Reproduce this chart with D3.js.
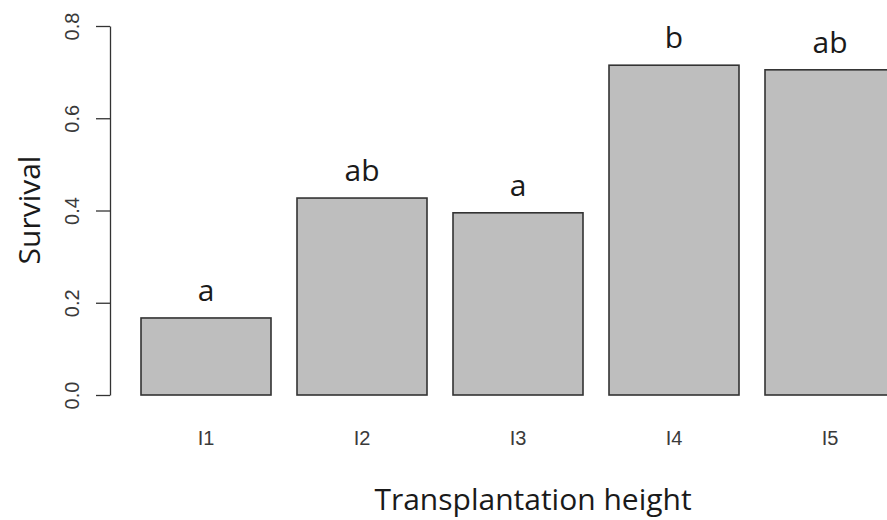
<!DOCTYPE html>
<html>
<head>
<meta charset="utf-8">
<script src="https://cdn.jsdelivr.net/npm/d3@7"></script>
<style>
  html, body { margin: 0; padding: 0; background: #ffffff; }
  svg { display: block; }
</style>
</head>
<body>
<svg id="chart" width="887" height="520"></svg>
<script>
// Survival proportion by transplantation height, with significance letters
const categories = ["I1", "I2", "I3", "I4", "I5"];
const survival = [0.167, 0.427, 0.395, 0.715, 0.705];
const groupLetters = ["a", "ab", "a", "b", "ab"];
const yTicks = [0.0, 0.2, 0.4, 0.6, 0.8];

const svg = d3.select("#chart");

const x = d3.scaleBand()
  .domain(categories)
  .range([128, 908])
  .paddingInner(1 / 6)
  .paddingOuter(1 / 12);

const y = d3.scaleLinear()
  .domain([0, 0.8])
  .range([395, 26]);

const ink = "#333333";
const textInk = "#1a1a1a";
const tickInk = "#3a3a3a";
const tickFont = "'Liberation Sans', Arial, sans-serif";

// bars
svg.append("g")
  .selectAll("rect")
  .data(categories)
  .join("rect")
  .attr("x", d => x(d))
  .attr("y", (d, i) => y(survival[i]))
  .attr("width", x.bandwidth())
  .attr("height", (d, i) => y(0) - y(survival[i]))
  .attr("fill", "#bebebe")
  .attr("stroke", ink)
  .attr("stroke-width", 1.6);

// y axis
const yAxis = svg.append("g")
  .attr("transform", "translate(110,0)")
  .call(d3.axisLeft(y).tickValues(yTicks).tickFormat(d3.format(".1f")).tickSize(14).tickSizeOuter(0));
yAxis.attr("font-size", 20).attr("font-family", tickFont);
yAxis.select(".domain").attr("stroke", ink).attr("stroke-width", 1.3);
yAxis.selectAll(".tick line").attr("stroke", ink).attr("stroke-width", 1.3);
yAxis.selectAll(".tick text")
  .attr("x", null).attr("dy", null)
  .attr("transform", "translate(-31,0) rotate(-90)")
  .attr("text-anchor", "middle")
  .attr("fill", tickInk)
  .attr("font-size", 20);

// category labels
svg.append("g")
  .selectAll("text")
  .data(categories)
  .join("text")
  .attr("x", d => x(d) + x.bandwidth() / 2)
  .attr("y", 445)
  .attr("text-anchor", "middle")
  .attr("fill", tickInk)
  .attr("font-family", tickFont)
  .attr("font-size", 20)
  .text(d => d);

// significance letters above bars
svg.append("g")
  .selectAll("text")
  .data(categories)
  .join("text")
  .attr("x", d => x(d) + x.bandwidth() / 2)
  .attr("y", (d, i) => y(survival[i]) - 17)
  .attr("text-anchor", "middle")
  .attr("fill", textInk)
  .attr("font-family", "'Open Sans', sans-serif")
  .attr("font-size", 30)
  .text((d, i) => groupLetters[i]);

// axis titles
svg.append("text")
  .attr("x", 533)
  .attr("y", 510)
  .attr("text-anchor", "middle")
  .attr("fill", textInk)
  .attr("font-family", "'Open Sans', sans-serif")
  .attr("font-size", 30)
  .text("Transplantation height");

svg.append("text")
  .attr("transform", "translate(40,210) rotate(-90)")
  .attr("text-anchor", "middle")
  .attr("fill", textInk)
  .attr("font-family", "'Open Sans', sans-serif")
  .attr("font-size", 30)
  .text("Survival");
</script>
</body>
</html>
